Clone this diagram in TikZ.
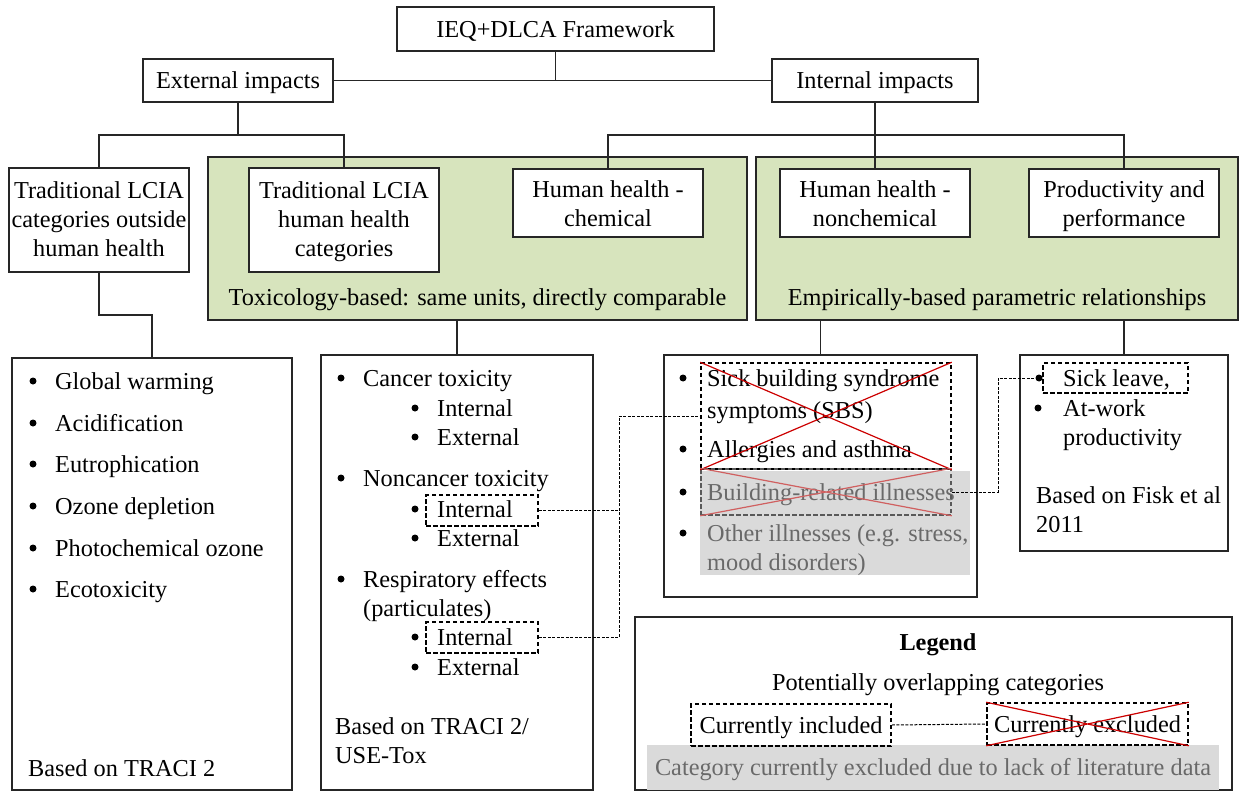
\documentclass[tikz,border=0pt]{standalone}
\usepackage{fontspec}
\setmainfont{Liberation Serif}
\usetikzlibrary{calc}

\definecolor{sage}{RGB}{215,228,189}
\definecolor{mist}{RGB}{218,218,218}
\definecolor{dimtext}{RGB}{105,105,105}
\definecolor{xred}{RGB}{204,0,0}
\definecolor{xpale}{RGB}{208,96,96}

\tikzset{
  wire/.style={draw=black!85, line width=1.2bp},
  frame/.style={draw=black!85, line width=1.2bp, inner sep=0pt},
  box/.style={frame, fill=white, align=center, text height=21bp, text depth=4bp},
  twolines/.style={text height=51bp},
  threelines/.style={text height=77bp},
  panel/.style={frame, fill=sage},
  caption/.style={inner sep=0pt, text height=19bp, text depth=3bp},
  item/.style={anchor=west, inner sep=0pt, text height=19bp, text depth=3bp},
  dot/.style={circle, fill=black, inner sep=0pt, minimum size=7bp},
  dbox/.style={draw=black, line width=1.5bp, dash pattern=on 4.5bp off 2.5bp, inner sep=0pt},
  dboxpale/.style={dbox, draw=black!65},
  conn/.style={draw=black, line width=1bp, dash pattern=on 3bp off 1.5bp},
  xline/.style={draw=xred, line width=1.2bp},
  xlinepale/.style={draw=xpale, line width=1.2bp},
  fog/.style={fill=mist, inner sep=0pt},
}

\begin{document}
\begin{tikzpicture}[x=1bp, y=-1bp, font=\fontsize{24.3bp}{29bp}\selectfont]
\useasboundingbox (0,0) rectangle (1239,791);

% ---- top of the hierarchy
\node[box, minimum width=317bp, minimum height=44bp] (ieq) at (555.5,29) {IEQ+DLCA Framework};
\node[box, minimum width=190bp, minimum height=43bp] (ext) at (238,80.5) {External impacts};
\node[box, minimum width=206bp, minimum height=43bp] (int) at (875,80.5) {Internal impacts};
\draw[wire] (ieq.south) -- (ieq.south |- ext.east);
\draw[wire] (ext.east) -- (int.west);

% ---- shaded groups
\node[panel, minimum width=539bp, minimum height=163bp] (tox) at (477.5,238.5) {};
\node[caption] (toxcap) at (477.5,297) {Toxicology-based: same units, directly comparable};
\node[panel, minimum width=482bp, minimum height=163bp] (emp) at (997,238.5) {};
\node[caption] (empcap) at (997,297) {Empirically-based parametric relationships};

% ---- impact category boxes
\node[box, threelines, minimum width=180bp, minimum height=104bp] (tradout) at (99,220) {Traditional LCIA\\categories outside\\human health};
\node[box, threelines, minimum width=190bp, minimum height=104bp] (trhh) at (344,220) {Traditional LCIA\\human health\\categories};
\node[box, twolines, minimum width=190bp, minimum height=68bp] (chem) at (608,203) {Human health -\\chemical};
\node[box, twolines, minimum width=190bp, minimum height=68bp] (nonchem) at (875,203) {Human health -\\nonchemical};
\node[box, twolines, minimum width=190bp, minimum height=68bp] (prod) at (1124,203) {Productivity and\\performance};

% ---- lists of indicators
\node[frame, minimum width=280bp, minimum height=432bp] (lst1) at (152,574) {};
\node[frame, minimum width=272bp, minimum height=435bp] (lst2) at (457,572.5) {};
\node[frame, minimum width=313bp, minimum height=242bp] (lst3) at (820.5,476) {};
\node[frame, minimum width=208bp, minimum height=196bp] (lst4) at (1124,453) {};
\node[frame, minimum width=597bp, minimum height=173bp] (legend) at (933.5,703.5) {};

% ---- tree connectors
\coordinate (busA) at (0,135);
\coordinate (elbow) at (0,315);
\draw[wire] (ext.south) -- (ext.south |- busA);
\draw[wire] (tradout.north) -- (tradout.north |- busA) -- (trhh.north |- busA) -- (trhh.north);
\draw[wire] (int.south) -- (nonchem.north);
\draw[wire] (chem.north) -- (chem.north |- busA) -- (prod.north |- busA) -- (prod.north);
\draw[wire] (tradout.south) -- (tradout.south |- elbow) -- (lst1.north |- elbow) -- (lst1.north);
\draw[wire] (lst2.north |- tox.south) -- (lst2.north);
\draw[wire] (lst3.north |- emp.south) -- (lst3.north);
\draw[wire] (lst4.north |- emp.south) -- (lst4.north);

% ---- list 1: other LCIA categories
\foreach \t/\y [count=\i] in {Global warming/381, Acidification/423, Eutrophication/464,
    Ozone depletion/506, Photochemical ozone/548, Ecotoxicity/589} {
  \node[dot] (pa\i) at (33,\y) {};
  \node[item] (ta\i) at (55,\y) {\t};
}
\node[item] (srca) at (28,768) {Based on TRACI 2};

% ---- list 2: toxicity categories
\foreach \t/\y [count=\i] in {Cancer toxicity/378, Noncancer toxicity/478, Respiratory effects/579} {
  \node[dot] (pb\i) at (341,\y) {};
  \node[item] (tb\i) at (363,\y) {\t};
}
\node[item] (tb4) at (363,608) {(particulates)};
\foreach \t/\y [count=\i] in {Internal/408, External/437, Internal/509, External/538,
    Internal/637, External/667} {
  \node[dot] (qb\i) at (415,\y) {};
  \node[item] (sb\i) at (437,\y) {\t};
}
\node[item] (srcb1) at (335,726) {Based on TRACI 2/};
\node[item] (srcb2) at (335,755) {USE-Tox};
\node[dbox, minimum width=112bp, minimum height=31bp] (ncbox) at (482,510.5) {};
\node[dbox, minimum width=112bp, minimum height=31bp] (rsbox) at (482,637.5) {};

% ---- list 3: nonchemical health effects
\node[fog, minimum width=270bp, minimum height=104bp] (fogc) at (835,523) {};
\node[dot] (pc1) at (683,378) {};
\node[item] (tc1) at (707,378) {Sick building syndrome};
\node[item] (tc2) at (707,410) {symptoms (SBS)};
\node[dot] (pc3) at (683,449) {};
\node[item] (tc3) at (707,449) {Allergies and asthma};
\node[dot] (pc4) at (683,492) {};
\node[item, text=dimtext] (tc4) at (707,492) {Building-related illnesses};
\node[dot] (pc5) at (683,533) {};
\node[item, text=dimtext] (tc5) at (707,533) {Other illnesses (e.g. stress,};
\node[item, text=dimtext] (tc6) at (707,562) {mood disorders)};
\node[dbox, minimum width=250bp, minimum height=106bp] (sbsbox) at (826,416) {};
\node[dboxpale, minimum width=250bp, minimum height=46bp] (bribox) at (826,492) {};
\draw[xline] (sbsbox.north west) -- (sbsbox.south east) (sbsbox.south west) -- (sbsbox.north east);
\draw[xlinepale] (bribox.north west) -- (bribox.south east) (bribox.south west) -- (bribox.north east);

% ---- list 4: productivity
\node[dot] (pd1) at (1039,378) {};
\node[item] (td1) at (1063,378) {Sick leave,};
\node[dot] (pd2) at (1038,408) {};
\node[item] (td2) at (1063,408) {At-work};
\node[item] (td3) at (1063,437) {productivity};
\node[item] (srcd1) at (1036,495) {Based on Fisk et al};
\node[item] (srcd2) at (1036,524) {2011};
\node[dbox, minimum width=145bp, minimum height=30bp] (sickbox) at (1115.5,378) {};

% ---- overlap links
\coordinate (dj) at (619,0);
\coordinate (dk) at (998,0);
\draw[conn] (ncbox.east) -- (ncbox.east -| dj);
\draw[conn] (rsbox.east) -| (sbsbox.west -| dj) -- (sbsbox.west);
\draw[conn] (bribox.east) -- (bribox.east -| dk) |- (sickbox.west);

% ---- legend
\node[caption, font=\fontsize{24.3bp}{29bp}\selectfont\bfseries] (legtitle) at (938,642) {Legend};
\node[caption] (legsub) at (938,682) {Potentially overlapping categories};
\node[fog, minimum width=572bp, minimum height=45bp, text=dimtext, text height=19bp, text depth=3bp] (legfog) at (933,767.5) {Category currently excluded due to lack of literature data};
\node[dbox, minimum width=200bp, minimum height=42bp, text height=20bp, text depth=4bp] (incl) at (791,725) {Currently included};
\node[dbox, minimum width=201bp, minimum height=42bp, text height=20bp, text depth=4bp] (excl) at (1087.5,724) {Currently excluded};
\draw[xline] (excl.north west) -- (excl.south east) (excl.south west) -- (excl.north east);
\draw[conn] (incl.east) -- (excl.west);

\end{tikzpicture}
\end{document}
